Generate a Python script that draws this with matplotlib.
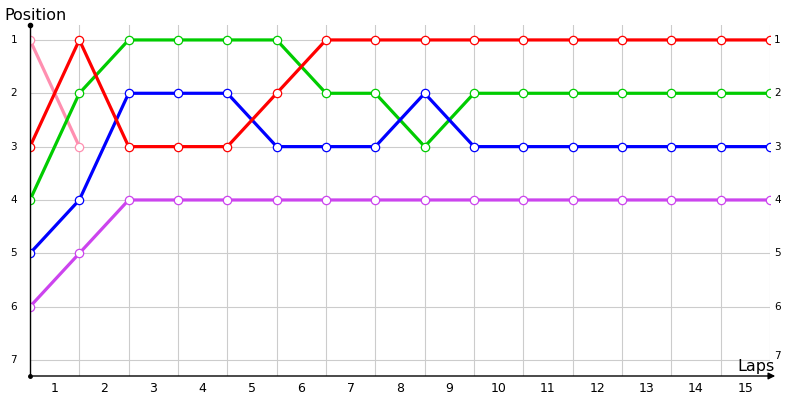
import matplotlib
matplotlib.use('Agg')
from matplotlib import pyplot as plt

laps = list(range(0, 16))
lap_labels = [str(i) for i in range(1, 16)]
positions = [1, 2, 3, 4, 5, 6, 7]

# lap chart: position of each car at start (lap 0) and after every lap
pink = [1, 3]
purple = [6, 5, 4, 4, 4, 4, 4, 4, 4, 4, 4, 4, 4, 4, 4, 4]
green = [4, 2, 1, 1, 1, 1, 2, 2, 3, 2, 2, 2, 2, 2, 2, 2]
blue = [5, 4, 2, 2, 2, 3, 3, 3, 2, 3, 3, 3, 3, 3, 3, 3]
red = [3, 1, 3, 3, 3, 2, 1, 1, 1, 1, 1, 1, 1, 1, 1, 1]

series = [
    (pink, '#ff8fb0'),
    (purple, '#cc44ee'),
    (green, '#00cc00'),
    (blue, '#0000ff'),
    (red, '#ff0000'),
]

plt.rcParams['font.family'] = ['DejaVu Sans']
fig = plt.figure(figsize=(8, 4), dpi=100)
ax = fig.add_axes([30 / 800, 24 / 400, 740 / 800, 351 / 400])

ax.set_xlim(0, 15)
ax.set_ylim(7.3, 0.72)

# grid
for x in laps:
    ax.axvline(x, color='#cccccc', lw=0.8, zorder=0)
for y in positions:
    ax.axhline(y, color='#cccccc', lw=0.8, zorder=0)

for values, color in series:
    ax.plot(laps[:len(values)], values, color=color, lw=2.3, marker='o',
            markersize=6, markerfacecolor='white', markeredgecolor=color,
            markeredgewidth=0.9, zorder=3)

for s in ax.spines.values():
    s.set_visible(False)
ax.set_xticks([])
ax.set_yticks([])

# axes with arrows
ax.annotate('', xy=(778 / 740 - 30 / 740, 0), xytext=(0, 0),
            xycoords='axes fraction', textcoords='axes fraction',
            arrowprops=dict(arrowstyle='-|>', color='black', lw=1.0,
                            mutation_scale=10), annotation_clip=False)
ax.plot([0, 0], [0, 1], transform=ax.transAxes, color='black', lw=1.0,
        clip_on=False, zorder=4)
ax.plot([0], [1], transform=ax.transAxes, marker='o', color='black',
        markersize=3, clip_on=False, zorder=4)
ax.plot([0], [0], transform=ax.transAxes, marker='o', color='black',
        markersize=2.5, clip_on=False, zorder=4)

# tick labels
for i, lab in enumerate(lap_labels):
    ax.text(i + 0.5, 7.53, lab, ha='center', va='center', fontsize=9,
            clip_on=False)
for p in positions:
    ax.text(-0.33, p, str(p), ha='center', va='center', fontsize=7.5,
            clip_on=False)
    ax.text(15.15, p - (0.07 if p == 7 else 0), str(p), ha='center',
            va='center', fontsize=7.5, clip_on=False)

fig.text(4 / 800, 1 - 15 / 400, 'Position', ha='left', va='center',
         fontsize=11.5)
fig.text(775 / 800, 1 - 366 / 400, 'Laps', ha='right', va='center',
         fontsize=11.5)

fig.savefig('out.png', dpi=100)
